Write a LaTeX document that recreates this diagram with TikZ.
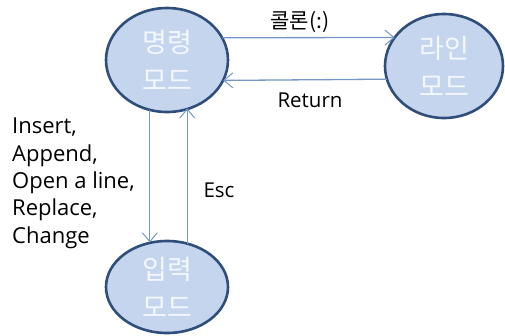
\documentclass[tikz,border=0pt]{standalone}
\usepackage{fontspec}
\setmainfont{Open Sans}
\newfontfamily\kr{Noto Sans CJK KR}
\usetikzlibrary{shapes.geometric,arrows.meta}
\definecolor{fillblue}{HTML}{C6D5EE}
\definecolor{edgeblue}{HTML}{2F4E7A}
\definecolor{arrowblue}{HTML}{7597C6}
\definecolor{textwhite}{HTML}{F4F8FE}
\begin{document}
\begin{tikzpicture}[x=1pt,y=-1pt,
  state/.style={ellipse,draw=edgeblue,line width=2.6pt,fill=fillblue,inner sep=0pt,outer sep=0pt,
    text=textwhite,align=center,font=\kr\fontsize{27}{38}\selectfont},
  arr/.style={draw=arrowblue,line width=1.3pt,-{Straight Barb[length=9pt,width=15pt,line width=1pt]}},
  lbl/.style={inner sep=0pt,text=black,font=\fontsize{20.5}{27}\selectfont}
]
\useasboundingbox (0,0) rectangle (505,335);
\node[state,minimum width=122pt,minimum height=104pt] (cmd) at (167,60) {명령\\모드};
\node[state,minimum width=118pt,minimum height=104pt] (line) at (444,66) {라인\\모드};
\node[state,minimum width=122pt,minimum height=92pt] (inp) at (167,287) {입력\\모드};
\draw[arr] (cmd.22.6) -- (line.150);
\draw[arr] (line.193.3) -- (cmd.-20.3);
\draw[arr] (cmd.-109.1) -- (inp.109.1 -| cmd.-109.1);
\draw[arr] (inp.65.8) -- (cmd.-65.8 -| inp.65.8);
\node[lbl,font=\kr\fontsize{21}{27}\selectfont] (colon) at (300,22) {콜론(:)};
\node[lbl] (ret) at (310,100) {Return};
\node[lbl] (esc) at (219,190) {Esc};
\node[lbl,anchor=north west,align=left,font=\fontsize{22}{27.3}\selectfont] (ops) at (12,118) {Insert,\\Append,\\Open a line,\\Replace,\\Change};
\end{tikzpicture}
\end{document}
